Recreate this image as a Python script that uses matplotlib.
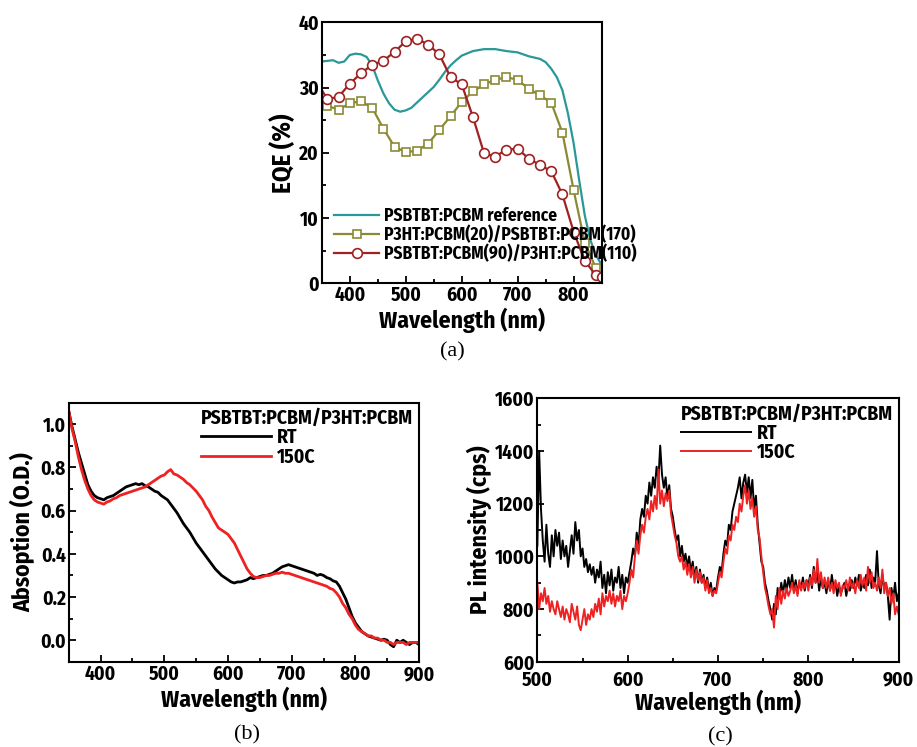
import numpy as np
import matplotlib
matplotlib.use("Agg")
import matplotlib.pyplot as plt
from matplotlib.ticker import MultipleLocator

# ---- (a) EQE spectra ----
eqe_ref_wl = [350, 360, 370, 380, 390, 400, 410, 420, 430, 440, 450, 460, 470, 480,
              490, 500, 510, 520, 530, 540, 550, 560, 570, 580, 590, 600, 620, 640,
              660, 680, 700, 720, 740, 750, 760, 770, 780, 790, 800, 810, 820, 830,
              840, 850]
eqe_ref = [34.0, 34.1, 34.2, 33.8, 34.0, 35.0, 35.2, 35.1, 34.7, 33.4, 31.1, 29.1, 27.6,
           26.6, 26.3, 26.5, 26.9, 27.7, 28.5, 29.3, 30.1, 31.2, 32.4, 33.4, 34.2, 34.9,
           35.6, 35.9, 35.9, 35.6, 35.4, 34.8, 34.4, 33.9, 32.9, 31.6, 29.6, 26.0, 21.5,
           15.8, 10.4, 6.6, 4.3, 2.8]

eqe_wl = [350, 360, 380, 400, 420, 440, 460, 480, 500, 520, 540, 560, 580, 600, 620,
          640, 660, 680, 700, 720, 740, 760, 780, 800, 820, 840, 850]
eqe_p3ht_bottom = [28.3, 27.2, 26.6, 27.6, 27.9, 26.9, 23.7, 20.9, 20.1, 20.3, 21.4, 23.5,
                   25.6, 27.8, 29.4, 30.5, 31.2, 31.6, 31.2, 29.8, 28.8, 27.7, 23.1, 14.3,
                   6.2, 2.3, 1.2]
eqe_psbtbt_bottom = [29.6, 28.2, 28.6, 30.6, 32.2, 33.5, 34.1, 35.5, 37.1, 37.5, 36.6,
                     35.1, 31.6, 30.5, 25.5, 19.9, 19.4, 20.5, 20.6, 19.1, 18.1, 17.2,
                     13.6, 7.9, 3.4, 1.2, 0.9]

# ---- (b) absorption, 5 nm steps ----
abs_wl = np.arange(350, 901, 5)
abs_rt = [1.06, 0.99, 0.93, 0.87, 0.82, 0.77, 0.72, 0.69, 0.67, 0.66,
          0.655, 0.65, 0.66, 0.665, 0.67, 0.68, 0.69, 0.70, 0.71, 0.715,
          0.72, 0.725, 0.72, 0.725, 0.715, 0.71, 0.70, 0.69, 0.685, 0.67,
          0.66, 0.65, 0.63, 0.61, 0.59, 0.565, 0.54, 0.52, 0.50, 0.475,
          0.45, 0.43, 0.41, 0.39, 0.37, 0.35, 0.33, 0.315, 0.30, 0.29,
          0.28, 0.27, 0.265, 0.27, 0.27, 0.275, 0.28, 0.29, 0.285, 0.29,
          0.295, 0.30, 0.30, 0.305, 0.31, 0.32, 0.33, 0.34, 0.345, 0.35,
          0.345, 0.34, 0.335, 0.33, 0.325, 0.32, 0.315, 0.31, 0.30, 0.305,
          0.30, 0.29, 0.285, 0.275, 0.27, 0.25, 0.22, 0.19, 0.15, 0.11,
          0.08, 0.06, 0.04, 0.03, 0.02, 0.015, 0.01, 0.005, 0.0, 0.005,
          0.0, -0.02, -0.03, 0.0, -0.01, 0.0, -0.01, -0.02, -0.01, -0.01,
          -0.02]
abs_150c = [1.06, 0.98, 0.92, 0.85, 0.79, 0.74, 0.70, 0.67, 0.65, 0.64,
            0.635, 0.63, 0.64, 0.645, 0.655, 0.66, 0.67, 0.675, 0.68, 0.685,
            0.69, 0.695, 0.70, 0.705, 0.71, 0.72, 0.73, 0.74, 0.75, 0.76,
            0.765, 0.78, 0.79, 0.77, 0.765, 0.755, 0.745, 0.73, 0.72, 0.705,
            0.69, 0.67, 0.65, 0.62, 0.60, 0.57, 0.545, 0.52, 0.51, 0.50,
            0.49, 0.47, 0.45, 0.42, 0.39, 0.36, 0.33, 0.31, 0.295, 0.29,
            0.29, 0.295, 0.30, 0.30, 0.305, 0.31, 0.31, 0.315, 0.31, 0.31,
            0.305, 0.30, 0.295, 0.29, 0.285, 0.28, 0.275, 0.27, 0.265, 0.26,
            0.255, 0.25, 0.24, 0.235, 0.22, 0.20, 0.17, 0.15, 0.12, 0.10,
            0.07, 0.05, 0.04, 0.03, 0.02, 0.02, 0.01, 0.01, 0.0, 0.0,
            -0.01, -0.01, -0.02, -0.01, -0.01, -0.01, -0.02, -0.01, -0.01, -0.01,
            -0.01]

# ---- (c) PL, 2 nm steps ----
pl_wl = np.arange(500, 901, 2)
pl_rt = [1040, 1400, 1180, 1060, 980, 1120, 1010, 960, 1080, 1000,
         1100, 1040, 1090, 990, 1060, 1000, 1040, 960, 1020, 1080,
         1010, 1130, 1060, 1100, 1000, 1030, 960, 990, 940, 970,
         930, 960, 900, 950, 920, 980, 880, 930, 860, 940,
         890, 950, 870, 920, 900, 960, 880, 930, 860, 920,
         900, 940, 980, 1030, 1000, 1090, 1040, 1140, 1180, 1150,
         1230, 1200, 1280, 1230, 1300, 1260, 1340, 1290, 1420, 1310,
         1260, 1300, 1220, 1270, 1180, 1150, 1100, 1060, 1080, 1000,
         1040, 980, 1010, 960, 1000, 940, 980, 920, 960, 900,
         950, 900, 930, 880, 920, 870, 900, 850, 880, 870,
         920, 960, 940, 1010, 1060, 1040, 1120, 1100, 1170, 1200,
         1230, 1260, 1300, 1220, 1280, 1310, 1240, 1300, 1220, 1290,
         1180, 1230, 1120, 1050, 980, 960, 900, 870, 830, 800,
         760, 820, 780, 880, 840, 900, 860, 910, 870, 920,
         880, 930, 870, 910, 860, 900, 880, 920, 870, 910,
         890, 930, 880, 960, 900, 940, 870, 920, 880, 900,
         860, 910, 870, 930, 880, 900, 850, 890, 860, 880,
         900, 850, 890, 870, 910, 880, 920, 890, 930, 870,
         900, 880, 930, 890, 950, 880, 920, 900, 1020, 890,
         860, 930, 880, 900, 850, 760, 880, 840, 900, 830,
         860]
pl_150c = [900, 800, 860, 830, 880, 820, 850, 790, 830, 800,
           780, 830, 800, 770, 810, 760, 800, 780, 750, 820,
           790, 760, 810, 740, 720, 760, 800, 740, 780, 760,
           800, 770, 820, 790, 840, 780, 860, 810, 850, 830,
           870, 820, 860, 810, 850, 830, 870, 800, 850, 830,
           860, 900, 950, 920, 1000, 1060, 1010, 1080, 1120, 1090,
           1150, 1180, 1140, 1210, 1170, 1230, 1180, 1330, 1200, 1250,
           1190, 1240, 1210, 1250, 1160, 1120, 1080, 1050, 1000, 980,
           1000, 950, 980, 930, 970, 920, 960, 900, 950, 910,
           940, 900, 920, 870, 910, 860, 880, 850, 870, 860,
           900, 940, 920, 980, 1030, 1010, 1080, 1060, 1120, 1100,
           1150, 1130, 1200, 1170, 1230, 1270, 1200, 1250, 1180, 1220,
           1150, 1190, 1100, 1070, 1000, 940, 880, 850, 810, 780,
           800, 730, 850, 800, 880, 820, 870, 840, 880, 850,
           870, 900, 860, 890, 850, 910, 870, 900, 880, 910,
           870, 920, 890, 950, 900, 990, 900, 940, 880, 920,
           880, 920, 870, 900, 860, 910, 880, 900, 850, 890,
           880, 910, 870, 920, 880, 900, 860, 910, 880, 930,
           890, 920, 870, 960, 900, 940, 880, 900, 870, 920,
           880, 950, 860, 900, 850, 880, 820, 860, 780, 810,
           780]

plt.rcParams["font.family"] = ["Fira Sans Condensed", "DejaVu Sans"]
plt.rcParams["font.weight"] = "bold"
plt.rcParams["axes.linewidth"] = 1.5

TICK_FS = 14
LABEL_FS = 17


def style_axis(ax):
    ax.tick_params(which="both", direction="in", width=1.3, labelsize=TICK_FS, pad=2)
    ax.tick_params(which="major", length=5)
    ax.tick_params(which="minor", length=3)
    for lab in ax.get_xticklabels() + ax.get_yticklabels():
        lab.set_fontweight("bold")


def add_legend(ax):
    return ax.legend(loc="upper right", frameon=False, title="PSBTBT:PCBM/P3HT:PCBM",
                     alignment="left", handlelength=3.6, handletextpad=0.3,
                     labelspacing=0.0, borderaxespad=0.1, borderpad=0.2,
                     prop={"weight": "bold", "size": 14},
                     title_fontproperties={"weight": "bold", "size": 14})


fig = plt.figure(figsize=(9.17, 7.47), dpi=100)

# (a)
ax_a = fig.add_axes([0.351, 0.621, 0.305, 0.349])
ax_a.plot(eqe_ref_wl, eqe_ref, color="#2a9898", lw=1.6, label="PSBTBT:PCBM reference")
ax_a.plot(eqe_wl, eqe_p3ht_bottom, color="#8a8a34", lw=1.6, marker="s", ms=6,
          mfc="white", mew=1.2, markevery=slice(1, 26),
          label="P3HT:PCBM(20)/PSBTBT:PCBM(170)")
ax_a.plot(eqe_wl, eqe_psbtbt_bottom, color="#9e2222", lw=1.6, marker="o", ms=7,
          mfc="white", mew=1.2, markevery=slice(1, 27),
          label="PSBTBT:PCBM(90)/P3HT:PCBM(110)")
ax_a.set_xlim(350, 850)
ax_a.set_ylim(0, 40)
ax_a.xaxis.set_major_locator(MultipleLocator(100))
ax_a.xaxis.set_minor_locator(MultipleLocator(50))
ax_a.yaxis.set_major_locator(MultipleLocator(10))
ax_a.yaxis.set_minor_locator(MultipleLocator(5))
ax_a.set_xlabel("Wavelength (nm)", fontsize=LABEL_FS, fontweight="bold", labelpad=2)
ax_a.set_ylabel("EQE (%)", fontsize=LABEL_FS + 1, fontweight="bold", labelpad=2)
style_axis(ax_a)
ax_a.legend(loc="lower left", bbox_to_anchor=(0.0, 0.03), frameon=False,
            handlelength=2.6, handletextpad=0.3, labelspacing=0.05, borderaxespad=0.3,
            prop={"weight": "bold", "size": 12.5})

# (b)
ax_b = fig.add_axes([0.075, 0.114, 0.382, 0.347])
ax_b.plot(abs_wl, abs_rt, color="black", lw=2, label="RT")
ax_b.plot(abs_wl, abs_150c, color="#ee2222", lw=2, label="150C")
ax_b.set_xlim(350, 900)
ax_b.set_ylim(-0.1, 1.1)
ax_b.set_xticks([400, 500, 600, 700, 800, 900])
ax_b.xaxis.set_minor_locator(MultipleLocator(50))
ax_b.set_yticks([0.0, 0.2, 0.4, 0.6, 0.8, 1.0])
ax_b.yaxis.set_minor_locator(MultipleLocator(0.1))
ax_b.set_xlabel("Wavelength (nm)", fontsize=LABEL_FS, fontweight="bold", labelpad=2)
ax_b.set_ylabel("Absoption (O.D.)", fontsize=LABEL_FS, fontweight="bold", labelpad=4)
style_axis(ax_b)
add_legend(ax_b)

# (c)
ax_c = fig.add_axes([0.586, 0.114, 0.394, 0.353])
ax_c.plot(pl_wl, pl_rt, color="black", lw=1.4, label="RT")
ax_c.plot(pl_wl, pl_150c, color="#ee2222", lw=1.4, label="150C")
ax_c.set_xlim(500, 900)
ax_c.set_ylim(600, 1600)
ax_c.xaxis.set_major_locator(MultipleLocator(100))
ax_c.xaxis.set_minor_locator(MultipleLocator(50))
ax_c.yaxis.set_major_locator(MultipleLocator(200))
ax_c.yaxis.set_minor_locator(MultipleLocator(100))
ax_c.set_xlabel("Wavelength (nm)", fontsize=LABEL_FS, fontweight="bold", labelpad=0)
ax_c.set_ylabel("PL intensity (cps)", fontsize=LABEL_FS, fontweight="bold", labelpad=2)
style_axis(ax_c)
ax_c.tick_params(axis="x", which="both", pad=6)
add_legend(ax_c)

# panel captions
cap = {"fontsize": 16, "fontfamily": "Liberation Serif", "fontweight": "normal",
       "ha": "center", "va": "center"}
fig.text(452 / 917, 1 - 352 / 747, "(a)", **cap)
fig.text(247 / 917, 1 - 735 / 747, "(b)", **cap)
fig.text(720 / 917, 1 - 737 / 747, "(c)", **cap)

fig.savefig("out.png", dpi=100)
